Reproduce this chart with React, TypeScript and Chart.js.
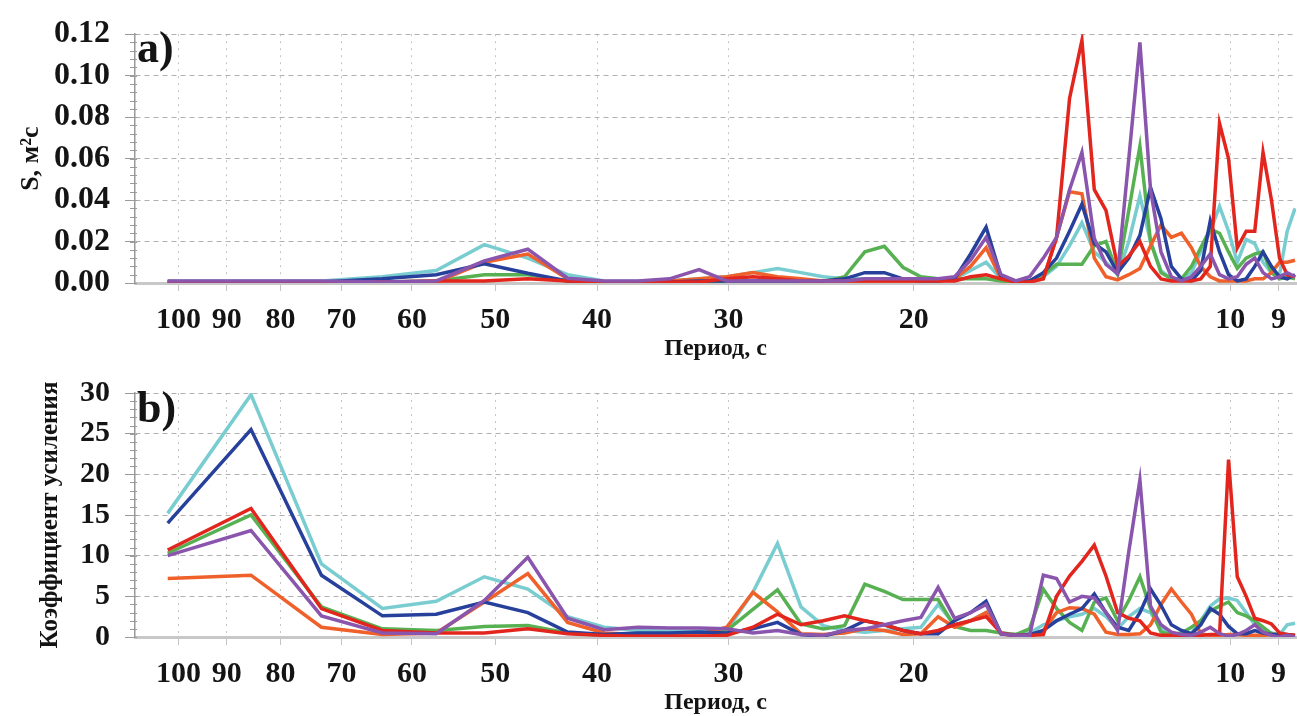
import React, { useEffect, useRef } from "react";
import { Chart, registerables } from "chart.js";

Chart.register(...registerables);

// Period (s) of each spectral estimate
const periods = [
  102.4, 85.33, 73.14, 64, 56.89, 51.2, 46.55, 42.67, 39.38, 36.57,
  34.13, 32, 30.12, 28.44, 26.95, 25.6, 24.38, 23.27, 22.26, 21.33,
  20.48, 19.69, 18.96, 18.29, 17.66, 17.07, 16.52, 16, 15.52, 15.06,
  14.63, 14.22, 13.84, 13.47, 13.13, 12.8, 12.49, 12.19, 11.91, 11.64,
  11.38, 11.13, 10.89, 10.67, 10.45, 10.24, 10.04, 9.85, 9.66, 9.48,
  9.31, 9.14, 8.98, 8.83, 8.68,
];

const periodTicks = [100, 90, 80, 70, 60, 50, 40, 30, 20, 10, 9];

// ---- Panel a: spectral density S, m^2 s ----
const specPurple = [
  0.001, 0.001, 0.001, 0.0005, 0.001, 0.0107, 0.0163, 0.0023, 0.001, 0.001,
  0.002, 0.0065, 0.001, 0.001, 0.001, 0.001, 0.001, 0.001, 0.002, 0.002,
  0.002, 0.002, 0.002, 0.003, 0.011, 0.022, 0.004, 0.001, 0.003, 0.012,
  0.022, 0.045, 0.063, 0.0215, 0.009, 0.0045, 0.06, 0.116, 0.045, 0.015,
  0.003, 0.001, 0.003, 0.008, 0.014, 0.004, 0.002, 0.003, 0.009, 0.012,
  0.005, 0.002, 0.003, 0.005, 0.003,
];
const specRed = [
  0.0005, 0.0005, 0.0005, 0.0005, 0.001, 0.001, 0.002, 0.001, 0.0005, 0.0005,
  0.0005, 0.0005, 0.002, 0.003, 0.002, 0.001, 0.001, 0.001, 0.001, 0.001,
  0.001, 0.001, 0.001, 0.001, 0.003, 0.004, 0.002, 0.0005, 0.0005, 0.002,
  0.022, 0.089, 0.117, 0.045, 0.035, 0.008, 0.013, 0.02, 0.008, 0.002,
  0.001, 0.001, 0.001, 0.002, 0.008, 0.077, 0.06, 0.017, 0.025, 0.025,
  0.063, 0.04, 0.012, 0.004, 0.003,
];
const specBlue = [
  0.0005, 0.0005, 0.0005, 0.002, 0.004, 0.0093, 0.0047, 0.001, 0.0005, 0.0005,
  0.0005, 0.001, 0.001, 0.001, 0.001, 0.001, 0.001, 0.002, 0.005, 0.005,
  0.002, 0.001, 0.001, 0.002, 0.014, 0.027, 0.003, 0.001, 0.001, 0.005,
  0.012, 0.025, 0.038, 0.019, 0.015, 0.005, 0.012, 0.023, 0.046, 0.031,
  0.008, 0.002, 0.001, 0.006, 0.03, 0.015, 0.004, 0.001, 0.002, 0.008,
  0.015, 0.008, 0.003, 0.002, 0.004,
];
const specOrange = [
  0.0005, 0.0005, 0.0005, 0.0005, 0.0005, 0.01, 0.014, 0.002, 0.0005, 0.0005,
  0.001, 0.002, 0.003, 0.005, 0.003, 0.002, 0.001, 0.001, 0.001, 0.001,
  0.001, 0.001, 0.001, 0.002, 0.008, 0.017, 0.002, 0.0005, 0.0005, 0.002,
  0.022, 0.044, 0.043, 0.012, 0.003, 0.0015, 0.004, 0.007, 0.018, 0.028,
  0.022, 0.024, 0.017, 0.008, 0.003, 0.001, 0.001, 0.001, 0.001, 0.002,
  0.002, 0.005, 0.01, 0.01, 0.011,
];
const specGreen = [
  0.0005, 0.0005, 0.0005, 0.0005, 0.001, 0.004, 0.004, 0.001, 0.0005, 0.0005,
  0.0005, 0.0005, 0.0005, 0.0005, 0.0005, 0.0005, 0.0005, 0.003, 0.015, 0.0177,
  0.0076, 0.003, 0.002, 0.002, 0.002, 0.002, 0.001, 0.0005, 0.001, 0.004,
  0.009, 0.009, 0.009, 0.018, 0.02, 0.0045, 0.035, 0.066, 0.02, 0.005,
  0.002, 0.002, 0.008, 0.017, 0.026, 0.024, 0.015, 0.007, 0.012, 0.014,
  0.015, 0.005, 0.002, 0.003, 0.002,
];
const specCyan = [
  0.001, 0.001, 0.001, 0.003, 0.006, 0.0185, 0.012, 0.004, 0.001, 0.0008,
  0.001, 0.002, 0.003, 0.005, 0.007, 0.005, 0.003, 0.002, 0.002, 0.002,
  0.002, 0.002, 0.002, 0.002, 0.006, 0.01, 0.002, 0.001, 0.001, 0.003,
  0.008, 0.018, 0.029, 0.015, 0.01, 0.004, 0.02, 0.042, 0.02, 0.006,
  0.002, 0.001, 0.005, 0.015, 0.025, 0.037, 0.025, 0.01, 0.021, 0.019,
  0.01, 0.005, 0.004, 0.025, 0.036,
];

// ---- Panel b: amplification factor ----
const gainPurple = [
  10.0, 13.1, 2.6, 0.5, 0.4, 4.5, 9.8, 2.3, 0.9, 1.2,
  1.1, 1.1, 1.0, 0.5, 0.8, 0.3, 0.2, 0.8, 1.0, 1.5,
  2.0, 2.4, 6.1, 2.3, 3.0, 4.0, 0.4, 0.2, 0.2, 7.6,
  7.2, 4.3, 5.0, 4.8, 3.0, 0.8, 10.5, 19.3, 3.8, 1.5,
  0.6, 0.3, 0.2, 0.6, 1.2, 0.4, 0.1, 0.3, 0.8, 1.5,
  0.6, 0.2, 0.0, 0.2, 0.0,
];
const gainRed = [
  10.7, 15.8, 3.5, 0.8, 0.5, 0.5, 1.0, 0.4, 0.2, 0.1,
  0.1, 0.1, 0.2, 1.2, 2.8, 1.5, 2.0, 2.6, 2.0, 1.5,
  0.8, 0.4, 0.8, 1.5, 2.0, 2.5, 0.5, 0.2, 0.2, 0.3,
  5.0, 7.5, 9.3, 11.3, 7.5, 3.0, 2.3, 2.0, 0.5, 0.2,
  0.2, 0.2, 0.2, 0.2, 0.3, 0.3, 21.8, 7.4, 5.0, 2.3,
  2.0, 1.6, 0.5, 0.3, 0.2,
];
const gainBlue = [
  14.0, 25.5, 7.6, 2.6, 2.8, 4.3, 3.0, 0.6, 0.3, 0.5,
  0.5, 0.6, 0.5, 1.0, 1.8, 0.3, 0.1, 0.8, 2.0, 1.5,
  0.8, 0.4, 0.4, 2.0, 3.0, 4.4, 0.4, 0.2, 0.3, 0.8,
  2.0, 2.8, 3.5, 5.3, 3.0, 1.2, 0.8, 3.0, 5.9, 3.9,
  1.5, 0.8, 0.4, 1.5, 3.5, 2.8, 1.3, 0.4, 0.4, 0.8,
  0.5, 0.3, 0.3, 0.3, 0.2,
];
const gainOrange = [
  7.2, 7.6, 1.2, 0.3, 0.5, 4.3, 7.8, 1.8, 0.5, 0.3,
  0.3, 0.3, 1.2, 5.5, 3.1, 0.4, 0.3, 0.5, 1.0, 0.8,
  0.3, 0.4, 2.5, 1.2, 2.0, 3.0, 0.4, 0.1, 0.1, 0.8,
  3.0, 3.6, 3.5, 2.8, 0.6, 0.3, 0.3, 0.4, 1.5, 4.0,
  5.9, 4.3, 2.8, 0.4, 0.2, 0.2, 0.3, 0.3, 0.2, 0.2,
  0.2, 0.3, 0.3, 0.2, 0.2,
];
const gainGreen = [
  10.3, 15.0, 3.7, 1.0, 0.8, 1.3, 1.4, 0.5, 0.2, 0.2,
  0.2, 0.3, 0.8, 3.4, 5.8, 1.6, 1.0, 1.4, 6.5, 5.6,
  4.6, 4.6, 4.6, 1.3, 0.8, 0.8, 0.5, 0.3, 1.0, 5.9,
  3.5, 1.8, 0.8, 4.3, 4.8, 2.0, 4.5, 7.4, 3.5, 0.6,
  0.3, 0.5, 1.2, 2.0, 3.2, 3.8, 4.3, 3.0, 2.6, 2.0,
  1.2, 0.4, 0.2, 0.2, 0.1,
];
const gainCyan = [
  15.2, 29.8, 9.0, 3.5, 4.4, 7.4, 5.9, 2.5, 1.2, 0.8,
  0.7, 0.7, 0.8, 5.5, 11.5, 3.7, 1.4, 0.8, 0.6, 0.8,
  1.0, 1.2, 4.0, 1.5, 2.0, 3.0, 0.5, 0.3, 0.5, 1.5,
  2.0, 2.5, 2.8, 3.5, 2.5, 1.0, 2.5, 3.5, 3.0, 1.0,
  0.3, 0.3, 0.5, 2.0, 3.8, 4.7, 4.8, 4.5, 3.0, 1.5,
  0.8, 0.5, 0.3, 1.5, 1.7,
];

const COLORS = {
  purple: "#8a55ad",
  red: "#e2261e",
  blue: "#27409b",
  orange: "#f0602a",
  green: "#57b152",
  cyan: "#79cdd0",
};

const FONT = '"Liberation Serif", "Times New Roman", serif';

type PanelCfg = {
  series: { color: string; values: number[] }[];
  yMax: number;
  yStep: number;
  yDecimals: number;
  yTickSize: number;
  yTitle: string;
  yTitleSize: number;
  yTitlePad: number;
  label: string;
  labelDy: number;
  top: number;
  xAxisHeight: number;
  height: number;
  xTitlePad: number;
};

const panelPlugin = {
  id: "panelExtras",
  afterDraw(chart: any, _args: any, opts: any) {
    const ctx = chart.ctx;
    const area = chart.chartArea;
    const y = chart.scales.y;
    ctx.save();
    // minor ticks on the value axis
    ctx.strokeStyle = "#9a9a9a";
    ctx.lineWidth = 1;
    const n = Math.round((y.max - y.min) / opts.minorStep);
    for (let i = 0; i <= n; i++) {
      const py = Math.round(y.getPixelForValue(y.min + i * opts.minorStep)) + 0.5;
      ctx.beginPath();
      ctx.moveTo(area.left - 5, py);
      ctx.lineTo(area.left + 2, py);
      ctx.stroke();
    }
    // panel letter
    ctx.fillStyle = "#141414";
    ctx.font = `bold 44px ${FONT}`;
    ctx.textBaseline = "alphabetic";
    ctx.textAlign = "left";
    ctx.fillText(opts.label, area.left + 2, area.top + opts.labelDy);
    ctx.restore();
  },
};

function Panel({ cfg }: { cfg: PanelCfg }) {
  const ref = useRef<HTMLCanvasElement | null>(null);
  useEffect(() => {
    if (!ref.current) return;
    const chart = new Chart(ref.current, {
      type: "line",
      data: {
        datasets: cfg.series.map((s) => ({
          data: s.values.map((v, i) => ({ x: periods[i], y: v })),
          borderColor: s.color,
          backgroundColor: s.color,
          borderWidth: 3.5,
          pointRadius: 0,
          tension: 0,
          fill: false,
        })),
      },
      options: {
        responsive: false,
        animation: false,
        devicePixelRatio: 1,
        layout: { padding: { top: cfg.top, left: 0, right: 0, bottom: 0 } },
        plugins: {
          legend: { display: false },
          tooltip: { enabled: false },
          panelExtras: { minorStep: cfg.yStep / 5, label: cfg.label, labelDy: cfg.labelDy },
        } as any,
        scales: {
          x: {
            type: "logarithmic",
            reverse: true,
            min: 8.66,
            max: 110,
            afterBuildTicks: (scale: any) => {
              scale.ticks = periodTicks.map((v) => ({ value: v }));
            },
            afterFit: (scale: any) => {
              scale.height = cfg.xAxisHeight;
            },
            ticks: {
              autoSkip: false,
              maxRotation: 0,
              padding: 11,
              color: "#141414",
              font: { family: FONT, size: 30, weight: "bold" },
              callback: (v: any) => String(v),
            },
            grid: {
              color: "#c4c4c4",
              lineWidth: 1,
              tickLength: 8,
              tickColor: "#c4c4c4",
              tickBorderDash: [],
            },
            border: { display: true, color: "#c8c8c8", width: 3, dash: [2, 5] },
            title: {
              display: true,
              text: "Период, с",
              color: "#141414",
              font: { family: FONT, size: 24, weight: "bold" },
              padding: { top: 0, bottom: cfg.xTitlePad },
            },
          },
          y: {
            type: "linear",
            min: 0,
            max: cfg.yMax,
            afterFit: (scale: any) => {
              scale.width = 135;
            },
            ticks: {
              stepSize: cfg.yStep,
              padding: 15,
              color: "#141414",
              font: { family: FONT, size: cfg.yTickSize, weight: "bold" },
              callback: (v: any) => Number(v).toFixed(cfg.yDecimals),
            },
            grid: {
              color: "#b0b0b0",
              lineWidth: 1,
              tickLength: 10,
              tickColor: "#9a9a9a",
              tickBorderDash: [],
            },
            border: { display: true, color: "#9a9a9a", width: 1.5, dash: [5, 4] },
            title: {
              display: true,
              text: cfg.yTitle,
              color: "#141414",
              font: { family: FONT, size: cfg.yTitleSize, weight: "bold" },
              padding: { top: cfg.yTitlePad, bottom: 0 },
            },
          },
        },
      } as any,
      plugins: [panelPlugin],
    });
    return () => chart.destroy();
  }, [cfg]);
  return (
    <canvas
      ref={ref}
      width={1297}
      height={cfg.height}
      style={{ display: "block", width: 1297, height: cfg.height }}
    />
  );
}

const panelA: PanelCfg = {
  series: [
    { color: COLORS.purple, values: specPurple },
    { color: COLORS.red, values: specRed },
    { color: COLORS.blue, values: specBlue },
    { color: COLORS.orange, values: specOrange },
    { color: COLORS.green, values: specGreen },
    { color: COLORS.cyan, values: specCyan },
  ],
  yMax: 0.12,
  yStep: 0.02,
  yDecimals: 2,
  yTickSize: 32,
  yTitle: "S, м²с",
  yTitleSize: 26,
  yTitlePad: 16,
  label: "a)",
  labelDy: 28,
  top: 25,
  xAxisHeight: 77,
  height: 360,
  xTitlePad: -3,
};

const panelB: PanelCfg = {
  series: [
    { color: COLORS.purple, values: gainPurple },
    { color: COLORS.red, values: gainRed },
    { color: COLORS.blue, values: gainBlue },
    { color: COLORS.orange, values: gainOrange },
    { color: COLORS.green, values: gainGreen },
    { color: COLORS.cyan, values: gainCyan },
  ],
  yMax: 30,
  yStep: 5,
  yDecimals: 0,
  yTickSize: 30,
  yTitle: "Коэффициент усиления",
  yTitleSize: 25,
  yTitlePad: 36,
  label: "b)",
  labelDy: 29,
  top: 20,
  xAxisHeight: 79,
  height: 356,
  xTitlePad: -1,
};

export default function App() {
  return (
    <div
      style={{
        position: "absolute",
        left: 0,
        top: 0,
        width: 1297,
        height: 716,
        background: "#ffffff",
        overflow: "hidden",
      }}
    >
      <Panel cfg={panelA} />
      <Panel cfg={panelB} />
    </div>
  );
}
